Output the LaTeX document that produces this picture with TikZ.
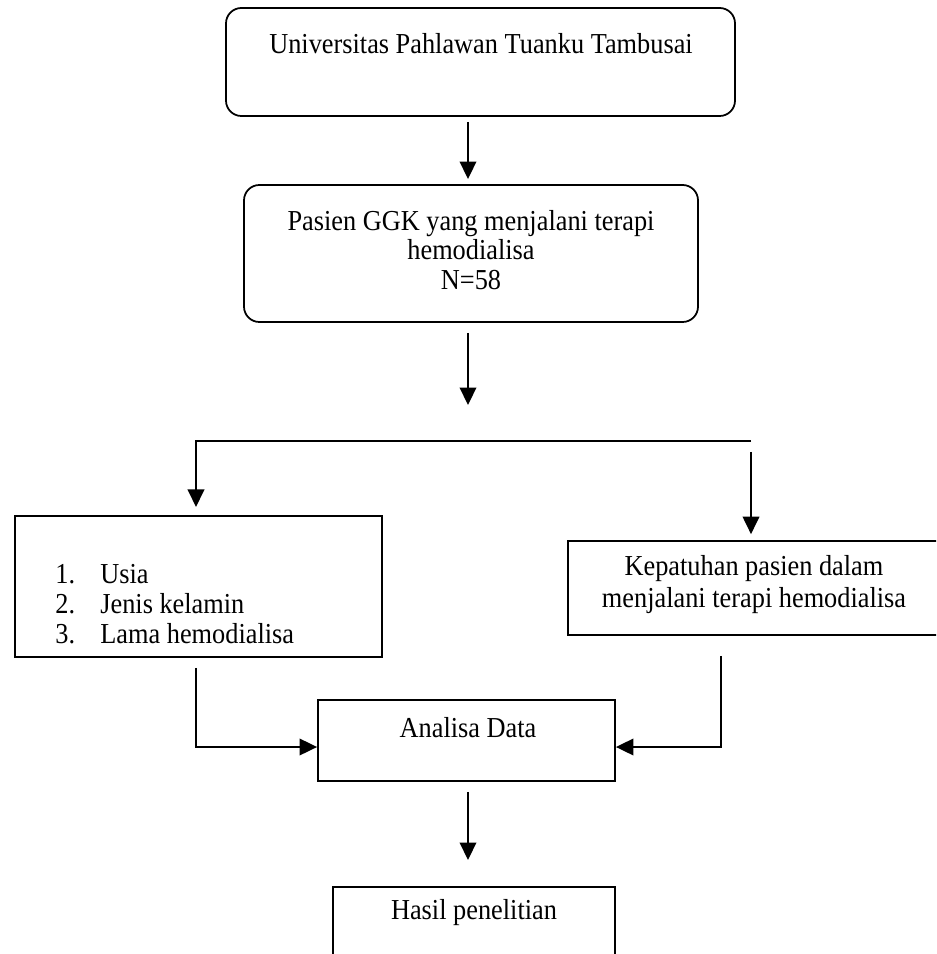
\documentclass[tikz,border=0pt]{standalone}
\usepackage{fontspec}
\setmainfont{Liberation Serif}[FakeStretch=0.91]
\usetikzlibrary{arrows.meta,fit}

\begin{document}
\begin{tikzpicture}[x=0.4563pt,y=-0.4563pt]
\tikzstyle{box} = [draw, line width=0.8pt, inner sep=0pt]
\tikzstyle{rbox} = [box, rounded corners=7pt]
\tikzstyle{txt} = [font=\fontsize{13.2}{13.3}\selectfont, inner sep=0pt, align=center]
\tikzstyle{flow} = [line width=1pt, -{Triangle[length=8pt,width=7.5pt]}]
\clip (0,0) rectangle (936,954);
% boxes
\node[rbox, fit={(226,8) (735,116)}] (univBox) {};
\node[rbox, fit={(244,185) (698,322)}] (pasienBox) {};
\node[box, fit={(15,516) (382,657)}] (faktorBox) {};
\node[box, fit={(568,541) (945,635)}] (patuhBox) {};
\node[box, fit={(318,700) (615,781)}] (analisaBox) {};
\node[box, fit={(333,887) (615,965)}] (hasilBox) {};
% texts
\node[txt] (univText) at (481,44) {Universitas Pahlawan Tuanku Tambusai};
\node[txt] (pasienText) at (471,250) {Pasien GGK yang menjalani terapi\\hemodialisa\\N=58};
\node[txt, anchor=west, align=left, font=\fontsize{13.2}{13.6}\selectfont] (faktorText) at (55,604)
  {\makebox[20.5pt][l]{1.}Usia\\\makebox[20.5pt][l]{2.}Jenis kelamin\\\makebox[20.5pt][l]{3.}Lama hemodialisa};
\node[txt, font=\fontsize{13.2}{14.6}\selectfont] (patuhText) at (754,585) {Kepatuhan pasien dalam\\menjalani terapi hemodialisa};
\node[txt] (analisaText) at (468,728) {Analisa Data};
\node[txt] (hasilText) at (474,913) {Hasil penelitian};
% connectors
\coordinate (spine) at (468,0);
\coordinate (split) at (468,441);
\coordinate (branchL) at (196,441);
\coordinate (branchR) at (751,441);
\coordinate (joinL) at (196,747);
\coordinate (joinR) at (721,747);
\draw[flow, shorten <=2.3pt, shorten >=2.3pt] (univBox.south -| spine) -- (pasienBox.north -| spine);
\draw[flow, shorten <=4.6pt, shorten >=16.4pt] (pasienBox.south -| spine) -- (split);
\draw[flow, shorten >=3.7pt] (branchR) -- (branchL) -- (faktorBox.north -| branchL);
\draw[flow, shorten <=5pt, shorten >=2.7pt] (branchR) -- (patuhBox.north -| branchR);
\draw[flow, shorten <=4.6pt] (faktorBox.south -| joinL) -- (joinL) -- (analisaBox.west |- joinL);
\draw[flow, shorten <=9.1pt] (patuhBox.south -| joinR) -- (joinR) -- (analisaBox.east |- joinR);
\draw[flow, shorten <=4.6pt, shorten >=11.9pt] (analisaBox.south -| spine) -- (hasilBox.north -| spine);
\end{tikzpicture}
\end{document}
